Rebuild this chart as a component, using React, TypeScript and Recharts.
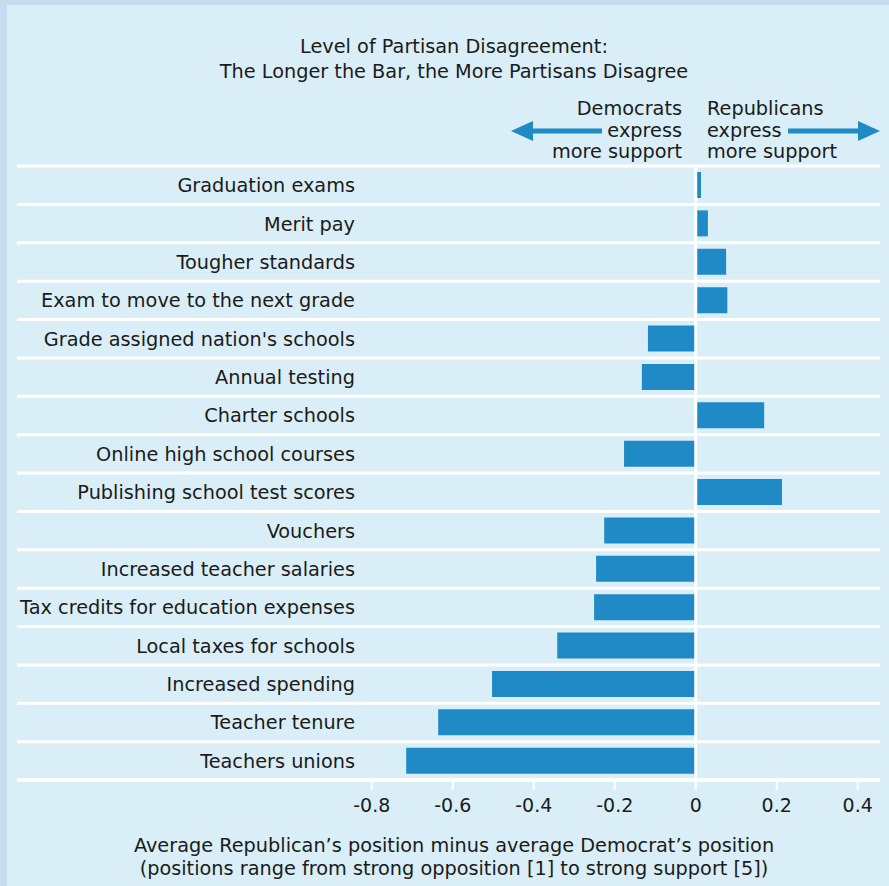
import React from "react";
import {
  BarChart,
  Bar,
  XAxis,
  YAxis,
  CartesianGrid,
  ReferenceLine,
} from "recharts";

const policies = [
  "Graduation exams",
  "Merit pay",
  "Tougher standards",
  "Exam to move to the next grade",
  "Grade assigned nation's schools",
  "Annual testing",
  "Charter schools",
  "Online high school courses",
  "Publishing school test scores",
  "Vouchers",
  "Increased teacher salaries",
  "Tax credits for education expenses",
  "Local taxes for schools",
  "Increased spending",
  "Teacher tenure",
  "Teachers unions",
];

const gaps = [
  0.013, 0.03, 0.075, 0.078, -0.118, -0.133, 0.169, -0.177, 0.213, -0.226,
  -0.246, -0.251, -0.342, -0.503, -0.636, -0.715,
];

const xTicks = [-0.8, -0.6, -0.4, -0.2, 0, 0.2, 0.4];

const rows = policies.map((name, i) => ({ name, gap: gaps[i] }));

const FONT = "'DejaVu Sans', 'Open Sans', sans-serif";
const INK = "#1b1b1b";
const BAR = "#1f8ac6";
const PANEL = "#d9eef6";
const OUTER = "#c6dcef";
const LABEL_RIGHT = 355;
const TEXT_SIZE = 19.3;

// separators sit on the band edges of the category axis
const bandEdges = ({ yAxis, offset }: any) => {
  const n = policies.length;
  const scale = yAxis?.scale;
  if (typeof scale === "function" && typeof scale.bandwidth === "function") {
    const bw = scale.bandwidth();
    const out = policies.map((p) => scale(p));
    out.push(scale(policies[n - 1]) + bw);
    if (out.every((v) => Number.isFinite(v))) return out;
  }
  const step = offset.height / n;
  return Array.from({ length: n + 1 }, (_, i) => offset.top + i * step);
};

const renderPolicyTick = ({ y, payload }: any) => (
  <text
    key={payload.value}
    x={LABEL_RIGHT}
    y={y}
    dy="0.36em"
    textAnchor="end"
    fill={INK}
    fontSize={TEXT_SIZE}
    fontFamily={FONT}>
    {payload.value}
  </text>
);

const Arrow = ({ from, to, y }: { from: number; to: number; y: number }) => {
  const dir = to > from ? 1 : -1;
  const base = to - dir * 22;
  return (
    <g fill={BAR}>
      <rect x={Math.min(from, base)} y={y - 2.5} width={Math.abs(base - from)} height={5} />
      <polygon points={`${to},${y} ${base},${y - 10} ${base},${y + 10}`} />
    </g>
  );
};

const lineStyle = (top: number): React.CSSProperties => ({
  position: "absolute",
  top,
  fontSize: TEXT_SIZE,
  lineHeight: "21px",
  whiteSpace: "nowrap",
});

export default function App() {
  const demLines = ["Democrats", "express", "more support"];
  const repLines = ["Republicans", "express", "more support"];
  return (
    <div
      style={{
        position: "absolute",
        left: 0,
        top: 0,
        width: 889,
        height: 886,
        background: OUTER,
        fontFamily: FONT,
        color: INK,
        overflow: "hidden",
      }}>
      <div
        style={{
          position: "absolute",
          left: 7,
          top: 5,
          width: 882,
          height: 881,
          background: PANEL,
        }}
      />
      <div
        style={{
          position: "absolute",
          left: 104,
          top: 34,
          width: 700,
          textAlign: "center",
          fontSize: TEXT_SIZE,
          lineHeight: "25px",
        }}>
        Level of Partisan Disagreement:
        <br />
        The Longer the Bar, the More Partisans Disagree
      </div>
      {demLines.map((t, i) => (
        <div
          key={"d" + i}
          style={{ ...lineStyle(98 + i * 21.5), right: 889 - 682, textAlign: "right" }}>
          {t}
        </div>
      ))}
      {repLines.map((t, i) => (
        <div key={"r" + i} style={{ ...lineStyle(98 + i * 21.5), left: 707 }}>
          {t}
        </div>
      ))}
      <svg
        width={889}
        height={886}
        style={{ position: "absolute", left: 0, top: 0, pointerEvents: "none" }}>
        <Arrow from={602} to={511} y={131} />
        <Arrow from={788} to={880} y={131} />
      </svg>
      <div
        style={{
          position: "absolute",
          left: 54,
          top: 834,
          width: 800,
          textAlign: "center",
          fontSize: TEXT_SIZE,
          lineHeight: "23px",
        }}>
        Average Republican’s position minus average Democrat’s position
        <br />
        (positions range from strong opposition [1] to strong support [5])
      </div>
      <div style={{ position: "absolute", left: 0, top: 0 }}>
        <BarChart
          width={889}
          height={886}
          layout="vertical"
          data={rows}
          margin={{ top: 166, right: 9, bottom: 61, left: 16 }}>
          <CartesianGrid
            vertical={false}
            stroke="#ffffff"
            strokeWidth={3}
            horizontalCoordinatesGenerator={bandEdges}
          />
          <XAxis
            type="number"
            domain={[-1.676, 0.455]}
            ticks={xTicks}
            height={45}
            axisLine={{ stroke: "#ffffff", strokeWidth: 3 }}
            tickLine={{ stroke: "#ffffff", strokeWidth: 2 }}
            tickSize={10}
            tickMargin={9}
            tick={{ fill: INK, fontSize: 19, fontFamily: FONT }}
            tickFormatter={(v: number) => (v === 0 ? "0" : v.toFixed(1))}
          />
          <YAxis
            type="category"
            dataKey="name"
            width={1}
            interval={0}
            axisLine={false}
            tickLine={false}
            tick={renderPolicyTick}
          />
          <Bar dataKey="gap" fill={BAR} barSize={26} isAnimationActive={false} />
          <ReferenceLine x={0} stroke="#ffffff" strokeWidth={3} />
        </BarChart>
      </div>
    </div>
  );
}
